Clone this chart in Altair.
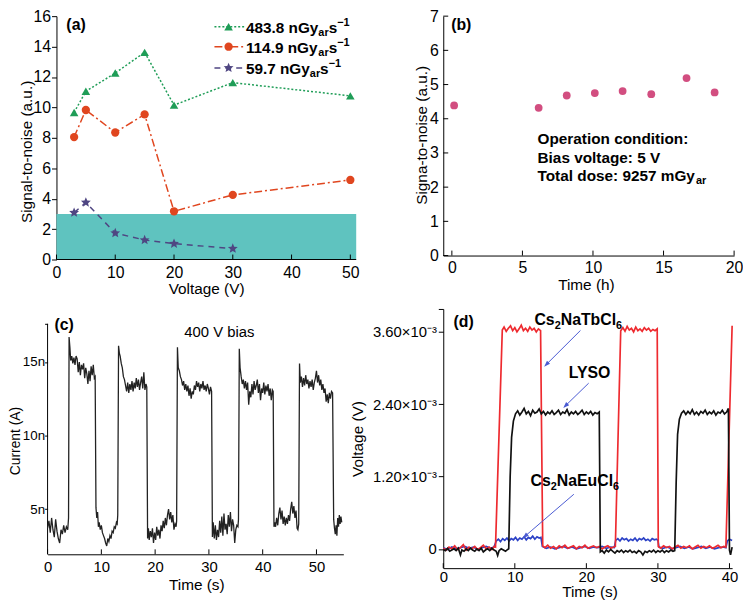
import math
import altair as alt
import pandas as pd

FONT = "Liberation Sans"
GREEN = "#1f9d57"
RED_A = "#e0461f"
PURPLE = "#4f4682"
TEAL = "#5fc3bf"
PINK = "#d24e80"
RED_D = "#ee2a2f"
BLUE_D = "#2b41c6"
BLACK_D = "#111111"
ARROW = "#4a5ad2"

# ---------------- (a) signal-to-noise vs voltage ----------------
a_voltage = [3, 5, 10, 15, 20, 30, 50]
a_high = [9.67, 11.06, 12.26, 13.62, 10.15, 11.63, 10.76]
a_mid = [8.05, 9.83, 8.35, 9.54, 3.17, 4.25, 5.23]
a_voltage_low = [3, 5, 10, 15, 20, 30]
a_low = [3.08, 3.75, 1.74, 1.28, 1.04, 0.72]
a_dose_rates = ["483.8", "114.9", "59.7"]          # legend: "<rate> nGy_ar s^-1"
a_band = [0, 3]
a_xdomain = [-1.515, 51]
a_xticks = [0, 10, 20, 30, 40, 50]
a_yticks = [0, 2, 4, 6, 8, 10, 12, 14, 16]

# ---------------- (b) stability over time ----------------
b_time = [0.16, 6.15, 8.14, 10.13, 12.1, 14.13, 16.63, 18.62]
b_snr = [4.39, 4.32, 4.68, 4.75, 4.81, 4.72, 5.19, 4.77]
b_text = ["Operation condition:", "Bias voltage: 5 V", "Total dose: 9257 mGy"]
b_xdomain = [-0.61, 20]
b_xticks = [0, 5, 10, 15, 20]
b_yticks = [0, 1, 2, 3, 4, 5, 6, 7]

# ---------------- (c) current response, 400 V bias (nA) ----------------
c_time = [0.0, 0.25, 0.5, 0.75, 1.0, 1.25, 1.5, 1.75, 2.0, 2.25, 2.5, 2.75, 3.0, 3.25, 3.5, 3.75,
          3.9, 4.0,
          4.15, 4.3, 4.5, 4.7, 4.9, 5.1, 5.3, 5.5, 5.7, 5.9, 6.1, 6.3, 6.5, 6.7, 6.9, 7.1, 7.3, 7.5, 7.7,
          7.9, 8.1, 8.3, 8.5, 8.7, 8.85,
          9.0,
          9.15, 9.3, 9.45, 9.6, 9.8, 10.0, 10.2, 10.4, 10.6, 10.8, 11.0, 11.2, 11.4, 11.6, 11.8, 12.0,
          12.2, 12.4, 12.6, 12.8, 12.95,
          13.05, 13.2,
          13.35, 13.5, 13.7, 13.9, 14.1, 14.3, 14.5, 14.7, 14.9, 15.1, 15.3, 15.5, 15.7, 15.9, 16.1,
          16.3, 16.5, 16.7, 16.9, 17.1, 17.3, 17.5, 17.7, 17.9, 18.1, 18.3, 18.45,
          18.6,
          18.75, 18.9, 19.1, 19.3, 19.5, 19.7, 19.9, 20.1, 20.3, 20.5, 20.7, 20.9, 21.1, 21.3, 21.5,
          21.7, 21.9, 22.1, 22.3, 22.5, 22.7, 22.9, 23.1, 23.3, 23.5, 23.7, 23.9,
          24.0, 24.15,
          24.3, 24.5, 24.7, 24.9, 25.1, 25.3, 25.5, 25.7, 25.9, 26.1, 26.3, 26.5, 26.7, 26.9, 27.1,
          27.3, 27.5, 27.7, 27.9, 28.1, 28.3, 28.5, 28.7, 28.9, 29.1, 29.3, 29.5, 29.7, 29.9, 30.1,
          30.3, 30.5,
          30.65,
          30.8, 31.0, 31.2, 31.4, 31.6, 31.8, 32.0, 32.2, 32.4, 32.6, 32.8, 33.0, 33.2, 33.4, 33.6,
          33.8, 34.0, 34.2, 34.4, 34.6, 34.8, 35.0, 35.2, 35.4,
          35.5, 35.65,
          35.8, 36.0, 36.2, 36.4, 36.6, 36.8, 37.0, 37.2, 37.4, 37.6, 37.8, 38.0, 38.2, 38.4, 38.6,
          38.8, 39.0, 39.2, 39.4, 39.6, 39.8, 40.0, 40.2, 40.4, 40.6, 40.8, 41.0, 41.2, 41.4, 41.6,
          41.8, 41.95,
          42.1,
          42.25, 42.4, 42.6, 42.8, 43.0, 43.2, 43.4, 43.6, 43.8, 44.0, 44.2, 44.4, 44.6, 44.8, 45.0,
          45.2, 45.4, 45.6, 45.8, 46.0, 46.2, 46.4, 46.55,
          46.7, 46.85,
          47.0, 47.2, 47.4, 47.6, 47.8, 48.0, 48.2, 48.4, 48.6, 48.8, 49.0, 49.2, 49.4, 49.6, 49.8,
          50.0, 50.2, 50.4, 50.6, 50.8, 51.0, 51.2, 51.4, 51.6, 51.8, 52.0, 52.2, 52.4, 52.6, 52.8,
          53.0,
          53.2,
          53.35, 53.5, 53.65, 53.8, 53.95, 54.1, 54.25, 54.4, 54.55, 54.7]
c_current = [3.7, 4.2, 3.4, 4.4, 3.6, 3.1, 4.3, 3.5, 3.0, 2.7, 3.6, 3.3, 3.9, 3.4, 3.8, 3.6,
             4.4, 16.7,
             16.0, 15.1, 15.4, 14.9, 15.3, 14.8, 15.4, 15.2, 14.3, 15.0, 14.1, 14.8, 14.5, 14.9, 13.9,
             14.6, 14.2, 13.5, 14.4, 13.7, 14.7, 14.1, 14.8, 13.9, 14.0,
             5.1,
             4.4, 4.8, 3.8, 4.1, 3.6, 3.9, 3.4, 3.2, 3.0, 2.7, 2.5, 3.0, 2.8, 3.2, 3.0, 3.5,
             3.4, 3.8, 3.7, 4.1, 4.0,
             4.6, 16.1,
             15.6, 15.4, 14.9, 14.6, 14.0, 13.8, 13.4, 13.0, 13.6, 12.9, 13.5, 13.1, 13.7, 13.0, 13.6,
             13.2, 13.9, 13.3, 13.8, 13.1, 13.6, 14.0, 13.2, 14.3, 13.1, 13.5, 13.3,
             3.0,
             3.7, 2.9, 3.5, 3.1, 3.7, 2.7, 3.4, 2.9, 3.8, 3.2, 3.6, 3.0, 3.9, 3.5, 4.2,
             3.7, 4.4, 3.9, 4.6, 5.0, 4.3, 4.8, 4.1, 4.6, 3.6, 4.0, 3.8,
             4.2, 16.0,
             14.6, 14.4, 14.0, 13.8, 13.4, 13.7, 13.1, 13.5, 13.0, 13.4, 12.7, 13.2, 12.5, 13.0, 12.8,
             13.4, 13.1, 13.7, 13.3, 13.6, 13.0, 13.5, 13.2, 13.7, 13.1, 13.4, 13.0, 13.5, 13.2, 12.8,
             13.3, 13.0,
             3.1,
             4.1, 3.0, 3.9, 2.9, 3.6, 3.1, 4.2, 3.4, 4.5, 3.2, 4.7, 3.6, 4.0, 3.3, 4.6,
             3.8, 4.8, 3.5, 4.3, 3.9, 2.7, 3.6, 3.9, 3.8,
             4.3, 15.9,
             14.6, 14.0, 13.5, 13.8, 13.2, 13.7, 13.1, 13.6, 12.1, 13.0, 12.6, 13.5, 12.8, 13.7, 13.1,
             13.4, 13.8, 12.9, 13.5, 12.4, 13.2, 12.9, 13.6, 12.8, 13.4, 13.0, 13.5, 12.7, 13.2, 12.4,
             13.1, 13.0,
             3.8,
             4.1, 3.8, 4.4, 3.9, 4.7, 5.1, 4.3, 4.9, 4.0, 4.5, 3.9, 4.4, 4.0, 4.6, 4.2,
             5.0, 5.5, 4.7, 5.2, 4.4, 4.9, 3.7, 3.6,
             4.0, 14.9,
             13.6, 14.0, 13.3, 13.9, 13.4, 14.1, 13.5, 13.8, 13.2, 13.7, 13.3, 13.8, 13.1, 13.6, 13.9,
             14.4, 13.6, 14.1, 13.4, 13.8, 13.1, 13.5, 12.9, 13.2, 12.3, 12.8, 12.2, 12.9, 12.5, 13.0,
             12.9,
             4.3,
             3.7, 3.3, 3.9, 3.2, 4.4, 3.8, 4.6, 4.0, 4.5, 4.1]
c_xticks = [0, 10, 20, 30, 40, 50]
c_yticks = [5, 10, 15]
c_axis_range = [1.93, 17.59]
c_ydomain = [1.93, 18.6]

# ---------------- (d) scintillator response (x10^-3 V) ----------------
d_red_t = [0.0, 0.4, 0.8, 1.2, 1.6, 2.0, 2.4, 2.8, 3.2, 3.6, 4.0, 4.4, 4.8, 5.2, 5.6, 6.0, 6.4, 6.8, 7.1, 7.3,
           8.25,
           8.5, 8.8, 9.1, 9.4, 9.7, 10.0, 10.3, 10.6, 10.9, 11.2, 11.5, 11.8, 12.1, 12.4, 12.7, 13.0, 13.3, 13.6,
           13.9,
           14.2, 14.6, 15.0, 15.4, 15.8, 16.2, 16.6, 17.0, 17.4, 17.8, 18.2, 18.6, 19.0, 19.4, 19.8, 20.2,
           20.6, 21.0, 21.4, 21.8, 22.2, 22.6, 23.0, 23.4, 23.8, 24.05,
           24.8,
           25.1, 25.4, 25.7, 26.0, 26.3, 26.6, 26.9, 27.2, 27.5, 27.8, 28.1, 28.4, 28.7, 29.0, 29.3, 29.6, 29.9,
           30.05,
           30.4, 30.8, 31.2, 31.6, 32.0, 32.4, 32.8, 33.2, 33.6, 34.0, 34.4, 34.8, 35.2, 35.6, 36.0, 36.4,
           36.8, 37.2, 37.6, 38.0, 38.4, 38.8, 39.2, 39.5,
           40.37]
d_red_v = [0.01, -0.02, 0.03, 0.00, 0.05, -0.01, 0.02, 0.07, -0.02, 0.03, 0.00, 0.04, -0.01, 0.02, 0.06, 0.00, 0.03, -0.01, 0.04, 0.03,
           3.63,
           3.68, 3.61, 3.66, 3.70, 3.62, 3.67, 3.60, 3.65, 3.71, 3.62, 3.66, 3.61, 3.68, 3.63, 3.66, 3.60, 3.65, 3.62,
           0.05,
           0.02, 0.06, 0.01, 0.04, 0.00, 0.05, 0.02, 0.06, 0.01, 0.03, 0.05, 0.00, 0.04, 0.02, 0.06, 0.01,
           0.03, 0.05, 0.02, 0.04, 0.00, 0.03, 0.05, 0.01, 0.03, 0.04,
           3.62,
           3.67, 3.61, 3.69, 3.63, 3.66, 3.60, 3.68, 3.62, 3.65, 3.61, 3.67, 3.63, 3.66, 3.61, 3.64, 3.62, 3.65,
           0.04,
           0.01, 0.05, 0.02, 0.04, 0.00, 0.03, 0.06, 0.01, 0.04, 0.02, 0.05, 0.00, 0.03, 0.06, 0.01, 0.04,
           0.02, 0.05, 0.01, 0.03, 0.06, 0.02, 0.04, 0.03,
           3.70]
d_blue_t = [0.0, 0.6, 1.2, 1.8, 2.4, 3.0, 3.6, 4.2, 4.8, 5.4, 6.0, 6.6, 7.1,
            7.4, 7.7, 8.0, 8.3, 8.6, 8.9, 9.2, 9.5, 9.8, 10.1, 10.4, 10.7, 11.0, 11.3, 11.6, 11.9, 12.2,
            12.5, 12.8, 13.1, 13.4, 13.65,
            13.85, 14.4, 15.0, 15.6, 16.2, 16.8, 17.4, 18.0, 18.6, 19.2, 19.8, 20.4, 21.0, 21.6, 22.2,
            22.8, 23.4, 23.9,
            24.1, 24.4, 24.7, 25.0, 25.3, 25.6, 25.9, 26.2, 26.5, 26.8, 27.1, 27.4, 27.7, 28.0, 28.3,
            28.6, 28.9, 29.2, 29.5, 29.8, 30.0,
            30.15, 30.7, 31.3, 31.9, 32.5, 33.1, 33.7, 34.3, 34.9, 35.5, 36.1, 36.7, 37.3, 37.9, 38.5,
            39.1, 39.5,
            39.7, 40.0, 40.37]
d_blue_v = [0.02, -0.01, 0.03, 0.00, 0.02, 0.04, 0.01, 0.03, -0.01, 0.02, 0.04, 0.01, 0.03,
            0.13, 0.16, 0.12, 0.17, 0.14, 0.18, 0.13, 0.17, 0.15, 0.19, 0.14, 0.18, 0.16, 0.20, 0.15, 0.19, 0.17,
            0.21, 0.16, 0.20, 0.18, 0.19,
            0.04, 0.01, 0.03, 0.00, 0.02, 0.04, 0.01, 0.03, 0.00, 0.02, 0.04, 0.01, 0.03, 0.02, 0.04,
            0.01, 0.03, 0.02,
            0.14, 0.17, 0.13, 0.18, 0.15, 0.17, 0.13, 0.16, 0.14, 0.18, 0.13, 0.17, 0.15, 0.18, 0.14,
            0.16, 0.13, 0.17, 0.15, 0.16, 0.14,
            0.03, 0.01, 0.03, 0.00, 0.02, 0.04, 0.01, 0.03, 0.00, 0.02, 0.04, 0.01, 0.03, 0.00, 0.02,
            0.03, 0.02,
            0.13, 0.16, 0.14]
d_black_t = [0.0, 0.3, 0.6, 0.9, 1.2, 1.5, 1.8, 2.1, 2.4, 2.6, 2.9, 3.2, 3.5, 3.8, 4.1, 4.4, 4.7, 5.0,
             5.3, 5.6, 5.9, 6.2, 6.5, 6.8, 7.1, 7.4, 7.6, 7.8, 8.1, 8.4, 8.7, 9.0, 9.15,
             9.35, 9.55, 9.8, 10.1,
             10.4, 10.7, 11.0, 11.3, 11.6, 11.9, 12.2, 12.5, 12.8, 13.1, 13.4, 13.7, 14.0, 14.3, 14.6,
             14.9, 15.2, 15.5, 15.8, 16.1, 16.4, 16.7, 17.0, 17.3, 17.6, 17.9, 18.2, 18.5, 18.8, 19.1,
             19.4, 19.7, 20.0, 20.3, 20.6, 20.9, 21.2, 21.5, 21.8,
             21.95,
             22.2, 22.5, 22.8, 23.1, 23.4, 23.7, 24.0, 24.3, 24.6, 24.9, 25.2, 25.5, 25.8, 26.1, 26.4,
             26.7, 27.0, 27.3, 27.6, 27.9, 28.2, 28.5, 28.8, 29.1, 29.4, 29.7, 30.0, 30.3, 30.6, 30.9,
             31.2, 31.5, 31.8, 32.1, 32.35,
             32.55, 32.75, 33.0, 33.3,
             33.6, 33.9, 34.2, 34.5, 34.8, 35.1, 35.4, 35.7, 36.0, 36.3, 36.6, 36.9, 37.2, 37.5, 37.8,
             38.1, 38.4, 38.7, 39.0, 39.3, 39.6, 39.85,
             40.0, 40.15, 40.37]
d_black_v = [-0.01, -0.03, 0.01, -0.04, -0.02, 0.00, -0.03, 0.01, -0.10, -0.02, -0.04, 0.00, -0.03, 0.01, -0.02, -0.04, 0.00, -0.03,
             0.01, -0.05, -0.02, 0.00, -0.03, 0.01, -0.02, -0.04, -0.11, -0.03, 0.00, -0.02, -0.04, -0.01, 0.00,
             1.20, 1.85, 2.12, 2.24,
             2.29, 2.22, 2.27, 2.33, 2.24, 2.28, 2.21, 2.30, 2.25, 2.27, 2.32, 2.24, 2.28, 2.22, 2.27,
             2.24, 2.29, 2.23, 2.26, 2.30, 2.23, 2.27, 2.25, 2.31, 2.22, 2.27, 2.24, 2.28, 2.23, 2.26,
             2.30, 2.23, 2.27, 2.24, 2.28, 2.22, 2.26, 2.24, 2.27,
             -0.05,
             -0.03, -0.07, -0.02, -0.05, -0.01, -0.04, -0.07, -0.03, -0.05, -0.02, -0.06, -0.03, -0.05, -0.02, -0.06,
             -0.04, -0.07, -0.03, -0.05, -0.10, -0.04, -0.06, -0.03, -0.05, -0.02, -0.06, -0.03, -0.05, -0.02, -0.06,
             -0.03, -0.05, -0.02, -0.04, -0.03,
             1.10, 1.90, 2.15, 2.25,
             2.29, 2.23, 2.28, 2.24, 2.31, 2.23, 2.27, 2.22, 2.28, 2.25, 2.30, 2.23, 2.27, 2.24, 2.29,
             2.22, 2.27, 2.25, 2.30, 2.24, 2.27, 2.33,
             -0.02, -0.10, 0.03]
# labels as (text, kind) runs; kind "sub" = subscript
d_labels = [[("Cs", ""), ("2", "sub"), ("NaTbCl", ""), ("6", "sub")],
            [("LYSO", "")],
            [("Cs", ""), ("2", "sub"), ("NaEuCl", ""), ("6", "sub")]]
d_xdomain = [0, 40.37]
d_ydomain = [-0.32, 3.98]
d_xticks = [0, 10, 20, 30, 40]
d_yticks = [0, 1.2, 2.4, 3.6, 3.98]

ONE = pd.DataFrame({"k": [0]})

# Arial/Liberation Sans Bold advance widths (em) for placing sub/superscript runs
BOLD_W = {" ": .278, "(": .333, ")": .333, ".": .278, ":": .333, "−": .584,
          "a": .556, "b": .611, "c": .556, "d": .611, "e": .556, "g": .611, "i": .278, "l": .278,
          "m": .889, "n": .611, "o": .611, "p": .611, "r": .389, "s": .556, "t": .333, "u": .611,
          "v": .556, "y": .556, "B": .722, "C": .722, "E": .667, "G": .778, "L": .611, "N": .722,
          "O": .778, "S": .667, "T": .611, "Y": .667}


def text_width(s, size):
    return sum(BOLD_W.get(ch, .556) for ch in s) * size


def rich(x, y, pieces, align="left"):
    """pieces: list of (text, fontSize, dy); y is the baseline (pixels)."""
    total = sum(text_width(t, sz) for t, sz, _ in pieces)
    if align == "center":
        x = x - total / 2
    out = []
    for t, sz, dy in pieces:
        out.append(alt.Chart(ONE).mark_text(text=t, font=FONT, fontSize=sz, fontWeight="bold",
                                            align="left", baseline="alphabetic", color="black")
                   .encode(x=alt.value(x), y=alt.value(y + dy)))
        x += text_width(t, sz)
    return out


def star_path(inner=0.45):
    pts = []
    for k in range(10):
        ang = math.radians(-90 + 36 * k)
        r = 1.0 if k % 2 == 0 else inner
        pts.append(f"{r * math.cos(ang):.4f},{r * math.sin(ang):.4f}")
    return "M" + "L".join(pts) + "Z"


STAR = star_path()
HEAD = "M0,-1L0.62,0.75L-0.62,0.75Z"
HEAD_SIZE = 50
HEAD_R = math.sqrt(HEAD_SIZE) / 2


def text_at(x, y, txt, size=16, bold=True, align="left"):
    return alt.Chart(ONE).mark_text(text=txt, font=FONT, fontSize=size,
                                    fontWeight="bold" if bold else "normal",
                                    align=align, baseline="middle", color="black").encode(
        x=alt.value(x), y=alt.value(y))


def arrow(x1, y1, x2, y2):
    dx, dy = x2 - x1, y2 - y1
    length = math.hypot(dx, dy)
    ux, uy = dx / length, dy / length
    ang = (math.degrees(math.atan2(dx, -dy)) + 360) % 360
    hx, hy = x2 - ux * HEAD_R, y2 - uy * HEAD_R
    line = alt.Chart(ONE).mark_rule(color=ARROW, strokeWidth=1).encode(
        x=alt.value(x1), y=alt.value(y1), x2=alt.value(hx), y2=alt.value(hy))
    head = alt.Chart(ONE).mark_point(shape=HEAD, filled=True, size=HEAD_SIZE, angle=ang,
                                     color=ARROW, opacity=1, strokeWidth=0).encode(
        x=alt.value(hx), y=alt.value(hy))
    return [line, head]


def x_axis(values, title, tx, ty, pad, fs, domain=True):
    return alt.Axis(values=values, ticks=False, domain=domain, labelFlush=False, labelOverlap=False,
                    labelFontSize=fs, labelBaseline="middle", labelPadding=pad,
                    title=title, titleFontSize=15.5, titleX=tx, titleY=ty,
                    titleBaseline="middle", titleAlign="center")


def y_axis(values, title, tx, ty, pad, fs, tick=5, ticks=True, domain=True, offset=0, expr=None,
           title_size=15.5):
    kw = dict(values=values, ticks=ticks, domain=domain, labelFlush=False, labelOverlap=False,
              labelFontSize=fs, labelPadding=pad, offset=offset,
              title=title, titleFontSize=title_size, titleAngle=270, titleX=tx, titleY=ty,
              titleBaseline="middle", titleAlign="center")
    if ticks:
        kw["tickSize"] = tick
    if expr:
        kw["labelExpr"] = expr
    return alt.Axis(**kw)


def inner_ticks_x(field_enc, values, h, field):
    return alt.Chart(pd.DataFrame({field: values})).mark_rule(color="black", strokeWidth=1).encode(
        x=field_enc, y=alt.value(h), y2=alt.value(h - 5))


# ================= panel (a) =================
A_W, A_H = 312, 246
ax = alt.X("v:Q", scale=alt.Scale(domain=a_xdomain, nice=False, zero=False),
           axis=x_axis(a_xticks, "Voltage (V)", 160.3, 29.5, 13.5, 16, domain=False))
ay = alt.Y("s:Q", scale=alt.Scale(domain=[0, 16], nice=False, zero=False),
           axis=y_axis(a_yticks, "Signal-to-noise (a.u.)", -30, 136.7, 1, 16, tick=5, offset=-9))

a_layers = []
a_layers.append(alt.Chart(pd.DataFrame({"v": [0.0], "v2": [a_xdomain[1]], "s": [a_band[0]], "s2": [a_band[1]]}))
                .mark_rect(color=TEAL).encode(x=ax, x2="v2", y=ay, y2="s2"))
a_layers.append(alt.Chart(pd.DataFrame({"v": [0.0], "v2": [a_xdomain[1]], "s": [0.0]}))
                .mark_rule(color="black", strokeWidth=1).encode(x=ax, x2="v2", y=ay))
a_layers.append(inner_ticks_x(ax, a_xticks, A_H, "v"))

a_specs = [
    (a_dose_rates[0], a_voltage, a_high, GREEN, [2, 2], "triangle-up", 75),
    (a_dose_rates[1], a_voltage, a_mid, RED_A, [8, 3, 2, 3], "circle", 70),
    (a_dose_rates[2], a_voltage_low, a_low, PURPLE, [6, 5], STAR, 110),
]
legend_baselines = [16.7, 36.9, 58.3]
for (rate, xs, ys, col, dash, shape, size), lb in zip(a_specs, legend_baselines):
    df = pd.DataFrame({"v": xs, "s": ys})
    a_layers.append(alt.Chart(df).mark_line(color=col, strokeWidth=1.5, strokeDash=dash).encode(x=ax, y=ay))
    a_layers.append(alt.Chart(df).mark_point(shape=shape, filled=True, size=size, color=col, opacity=1)
                    .encode(x=ax, y=ay))
    my = lb - 6
    a_layers.append(alt.Chart(ONE).mark_rule(color=col, strokeWidth=1.5, strokeDash=dash).encode(
        x=alt.value(168.7), x2=alt.value(198.7), y=alt.value(my)))
    a_layers.append(alt.Chart(ONE).mark_point(shape=shape, filled=True, size=size, color=col, opacity=1).encode(
        x=alt.value(183), y=alt.value(my)))
    a_layers += rich(200.5, lb, [(f"{rate} nGy", 15.5, 0), ("ar", 11, 3.5), ("s", 15.5, 0), ("−1", 11, -6.5)])
a_layers.append(text_at(19, 8.5, "(a)", size=16))
panel_a = alt.layer(*a_layers).properties(width=A_W, height=A_H)

# ================= panel (b) =================
B_W, B_H = 294, 242
bx = alt.X("t:Q", scale=alt.Scale(domain=b_xdomain, nice=False, zero=False),
           axis=x_axis(b_xticks, "Time (h)", 144.2, 29.7, 12.5, 16))
by = alt.Y("s:Q", scale=alt.Scale(domain=[0, 7], nice=False, zero=False),
           axis=y_axis(b_yticks, "Signa-to-noise (a.u.)", -22, 120, 5, 16, ticks=False))
b_layers = [
    inner_ticks_x(bx, b_xticks, B_H, "t"),
    alt.Chart(pd.DataFrame({"s": b_yticks})).mark_rule(color="black", strokeWidth=1).encode(
        y=by, x=alt.value(0), x2=alt.value(5)),
    alt.Chart(pd.DataFrame({"t": b_time, "s": b_snr})).mark_point(
        shape="circle", filled=True, size=62, color=PINK, opacity=1).encode(x=bx, y=by),
]
b_layers += rich(95.3, 129, [(b_text[0], 15.5, 0)])
b_layers += rich(95.3, 148, [(b_text[1], 15.5, 0)])
b_layers += rich(95.3, 166.5, [(b_text[2], 15.5, 0), ("ar", 11, 3.5)])
b_layers.append(text_at(8, 8.5, "(b)", size=16))
panel_b = alt.layer(*b_layers).properties(width=B_W, height=B_H)

# ================= panel (c) =================
C_W, C_H = 299, 248
cx = alt.X("t:Q", scale=alt.Scale(domain=[0, 55], nice=False, zero=False),
           axis=x_axis(c_xticks, "Time (s)", 150.3, 30.3, 12, 15))
cy = alt.Y("i:Q", scale=alt.Scale(domain=c_ydomain, nice=False, zero=False),
           axis=y_axis(c_yticks + [c_axis_range[1]], "Current (A)", -32, 133, 0, 13.5, tick=3, domain=False,
                       expr="datum.value > 16 ? '' : format(datum.value, 'd') + 'n'", title_size=14))
c_layers = [
    alt.Chart(pd.DataFrame({"t": [0.0], "i": [c_axis_range[0]], "i2": [c_axis_range[1]]}))
    .mark_rule(color="black", strokeWidth=1).encode(x=cx, y=cy, y2="i2"),
    inner_ticks_x(cx, c_xticks, C_H, "t"),
    alt.Chart(pd.DataFrame({"t": c_time, "i": c_current})).mark_line(
        color="#222222", strokeWidth=1.3).encode(x=cx, y=cy),
    text_at(7, 15.8, "(c)", size=16),
    text_at(173.7, 23, "400 V bias", size=15, bold=False, align="center"),
]
panel_c = alt.layer(*c_layers).properties(width=C_W, height=C_H)

# ================= panel (d) =================
D_W, D_H = 292, 262
dx_ = alt.X("t:Q", scale=alt.Scale(domain=d_xdomain, nice=False, zero=False),
            axis=x_axis(d_xticks, "Time (s)", 147.8, 24, 8, 15))
dy_ = alt.Y("mv:Q", scale=alt.Scale(domain=d_ydomain, nice=False, zero=False),
            axis=y_axis(d_yticks, "Voltage (V)", -87, 131, 2, 15, tick=5,
                        expr="datum.value > 3.9 ? '' : (datum.value == 0 ? '0' : format(datum.value, '.2f') + '×10⁻³')"))
d_layers = [inner_ticks_x(dx_, d_xticks, D_H, "t")]
for ts, vs, col in [(d_blue_t, d_blue_v, BLUE_D), (d_red_t, d_red_v, RED_D), (d_black_t, d_black_v, BLACK_D)]:
    d_layers.append(alt.Chart(pd.DataFrame({"t": ts, "mv": vs})).mark_line(
        color=col, strokeWidth=1.7).encode(x=dx_, y=dy_))
d_layers.append(text_at(10.3, 13, "(d)", size=16))
for runs, (cxp, base) in zip(d_labels, [(136.5, 16.7), (148.7, 70), (133, 179)]):
    pieces = [(t, 11, 4) if kind == "sub" else (t, 16, 0) for t, kind in runs]
    d_layers += rich(cxp, base, pieces, align="center")
d_layers += arrow(138.7, 21.7, 102, 58.3)
d_layers += arrow(147, 75, 121.3, 100)
d_layers += arrow(132, 187.3, 80.3, 231.7)
panel_d = alt.layer(*d_layers).properties(width=D_W, height=D_H)

chart = alt.concat(panel_a, panel_b, panel_c, panel_d, columns=2,
                   spacing={"row": 50, "column": 88}, bounds="flush").configure_axis(
    labelFont=FONT, titleFont=FONT, labelColor="black", titleColor="black",
    domainColor="black", tickColor="black", domainWidth=1, tickWidth=1,
    titleFontWeight="normal", grid=False
).configure_view(stroke=None).properties(
    padding={"left": 1, "top": -3, "right": 0, "bottom": 0}, background="white")

chart.save("out.html", embed_options={"renderer": "svg", "actions": False})
